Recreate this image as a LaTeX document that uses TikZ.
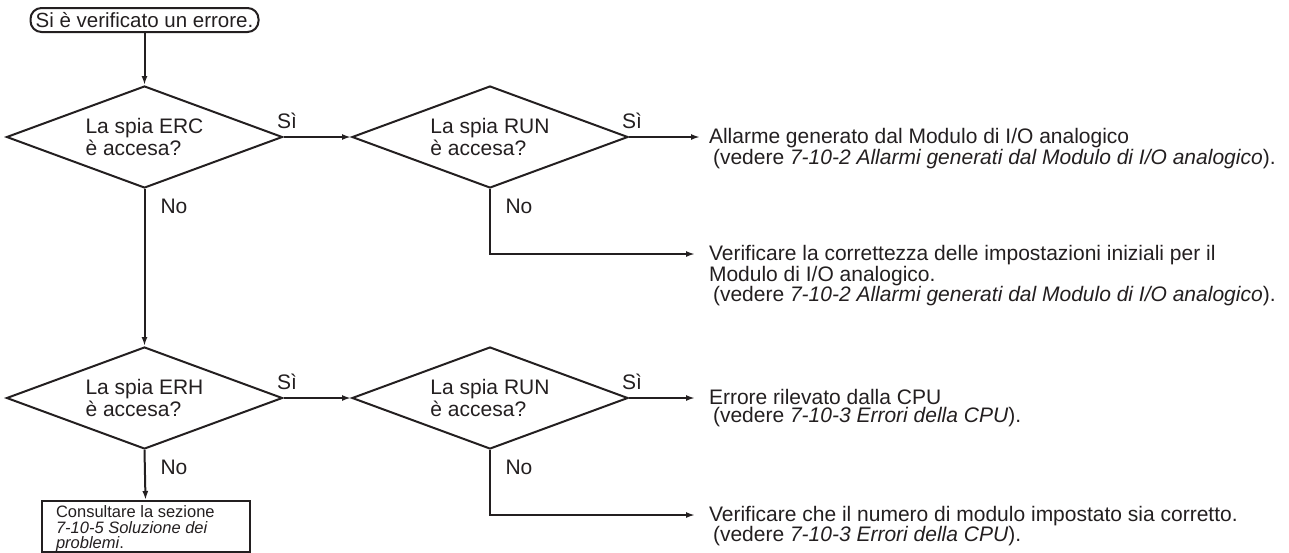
\documentclass[tikz,border=0pt]{standalone}
\usepackage{fontspec}
\setmainfont{Liberation Sans}
\usetikzlibrary{arrows.meta,shapes.geometric}
\definecolor{ink}{HTML}{231F20}
\begin{document}
\begin{tikzpicture}[x=1pt,y=-1pt,color=ink,line width=2pt,
  arr/.style={-{Latex[length=9pt,width=6pt]},line width=2pt},
  dia/.style={diamond,draw,line width=2pt,shape aspect=2.7,minimum width=276pt,minimum height=102pt,
    inner sep=0pt,align=left,font=\fontsize{21}{22}\selectfont},
  lbl/.style={inner sep=0pt,font=\fontsize{21}{20}\selectfont},
  note/.style={anchor=north west,inner sep=0pt,align=left,font=\fontsize{21}{18.5}\selectfont},
  startbox/.style={draw,rounded corners=11pt,minimum width=228pt,minimum height=24pt,
    inner sep=0pt,font=\fontsize{20.5}{20}\selectfont},
  refbox/.style={draw,anchor=north west,minimum width=208pt,minimum height=51pt,inner sep=0pt},
  reftext/.style={anchor=north west,inner sep=0pt,align=left,font=\fontsize{16.5}{15.5}\selectfont}
]
\useasboundingbox (0,0) rectangle (1289,552);

\node[startbox] (s) at (144.5,20) {Si è verificato un errore.};

\node[dia] (d1) at (144.5,137) {La spia ERC\\è accesa?};
\node[dia] (d2) at (490,137) {La spia RUN\\è accesa?};
\node[dia] (d3) at (144.5,398) {La spia ERH\\è accesa?};
\node[dia] (d4) at (490,398) {La spia RUN\\è accesa?};

\node[lbl] (y1) at (287,121) {Sì};
\node[lbl] (y2) at (632,121) {Sì};
\node[lbl] (y3) at (287,382) {Sì};
\node[lbl] (y4) at (632,382) {Sì};
\node[lbl] (n1) at (174,206) {No};
\node[lbl] (n2) at (519,206) {No};
\node[lbl] (n3) at (174,467) {No};
\node[lbl] (n4) at (519,467) {No};

\coordinate (e1) at (700,137);
\coordinate (e2) at (695,254);
\coordinate (e3) at (695,398);
\coordinate (e4) at (695,515);

\node[note] (t1) at (708,127.5) {Allarme generato dal Modulo di I/O analogico\\\hspace*{4pt}(vedere \textit{7-10-2 Allarmi generati dal Modulo di I/O analogico}).};
\node[note] (t2) at (708,244.5) {Verificare la correttezza delle impostazioni iniziali per il\\Modulo di I/O analogico.\\\hspace*{4pt}(vedere \textit{7-10-2 Allarmi generati dal Modulo di I/O analogico}).};
\node[note] (t3) at (708,388) {Errore rilevato dalla CPU\\\hspace*{4pt}(vedere \textit{7-10-3 Errori della CPU}).};
\node[note] (t4) at (708,505) {Verificare che il numero di modulo impostato sia corretto.\\\hspace*{4pt}(vedere \textit{7-10-3 Errori della CPU}).};

\node[refbox] (b) at (40.5,500) {};
\node[reftext] (bt) at (55,505) {Consultare la sezione\\\textit{7-10-5 Soluzione dei}\\\textit{problemi}.};

\draw[arr] (s.south) -- (d1.north);
\draw[arr] (d1.east) -- (d2.west);
\draw[arr] (d2.east) -- (e1);
\draw[arr] (d2.south) |- (e2);
\draw[arr] (d1.south) -- (d3.north);
\draw[arr] (d3.east) -- (d4.west);
\draw[arr] (d4.east) -- (e3);
\draw[arr] (d4.south) |- (e4);
\draw[arr] (d3.south) -- (b.north);
\end{tikzpicture}
\end{document}
